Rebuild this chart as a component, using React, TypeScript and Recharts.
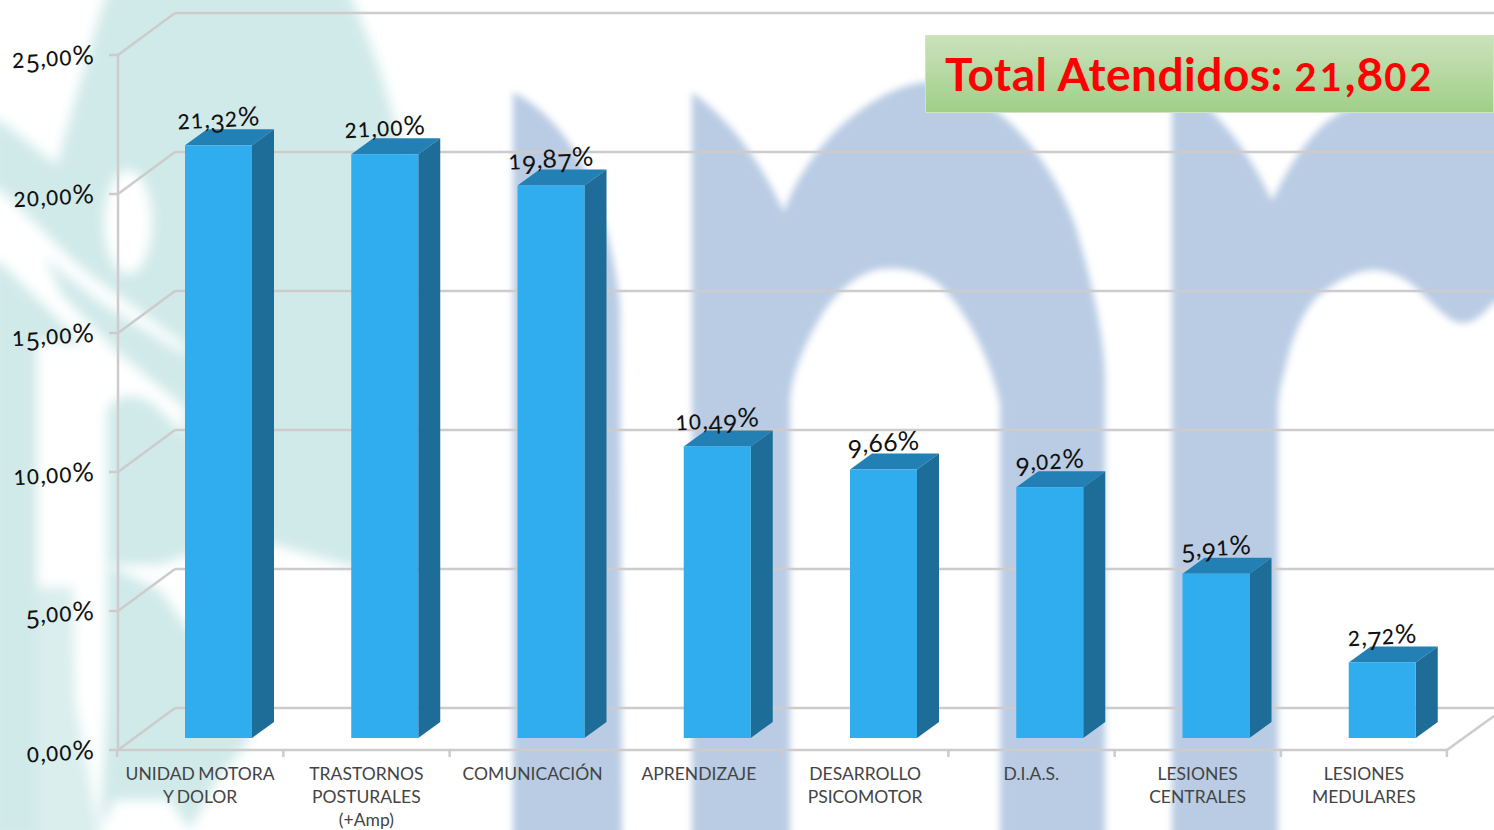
import { Bar, BarChart, CartesianGrid, LabelList, XAxis, YAxis } from "recharts";

const categories = [
  "UNIDAD MOTORA\nY DOLOR",
  "TRASTORNOS\nPOSTURALES\n(+Amp)",
  "COMUNICACIÓN",
  "APRENDIZAJE",
  "DESARROLLO\nPSICOMOTOR",
  "D.I.A.S.",
  "LESIONES\nCENTRALES",
  "LESIONES\nMEDULARES",
];
const percentages = [21.32, 21.0, 19.87, 10.49, 9.66, 9.02, 5.91, 2.72];
const yTicks = [0, 5, 10, 15, 20, 25];
const totalLabel = "Total Atendidos: ";
const totalValue = "21,802";

const chartData = categories.map((name, i) => ({ name, value: percentages[i] }));

const FONT = "Lato, 'Open Sans', sans-serif";
const GRID = "#cdcbcb";
const formatPct = (v: number) => v.toFixed(2).replace(".", ",") + "%";

// the installed fonts have no old-style figures, so fake them digit by digit
function oldStyle(text: string, size: number) {
  let offset = 0;
  return text.split("").map((ch, i) => {
    const small = "012".includes(ch);
    const low = "34579".includes(ch);
    const target = low ? size * 0.2 : 0;
    const dy = target - offset;
    offset = target;
    return (
      <tspan
        key={i}
        dy={dy}
        fontSize={small ? size * 0.8 : size * (ch === "%" ? 1.02 : 0.96)}
        fontWeight={small ? 500 : 400}
        letterSpacing={small ? 1.2 : 0.3}
      >
        {ch}
      </tspan>
    );
  });
}

function Bar3D({ x, y, width, height }: any) {
  const dx = 22;
  const dy = 16;
  return (
    <g>
      <polygon
        points={`${x},${y} ${x + dx},${y - dy} ${x + width + dx},${y - dy} ${x + width},${y}`}
        fill="#2280b5"
      />
      <polygon
        points={`${x + width},${y} ${x + width + dx},${y - dy} ${x + width + dx},${y + height - dy} ${x + width},${y + height}`}
        fill="#1e6d99"
      />
      <rect x={x} y={y} width={width} height={height} fill="#30adee" />
    </g>
  );
}

// grid line = back wall line plus the diagonal on the side wall
function GridLine({ y1 }: any) {
  const isFloor = Math.abs(y1 - 738) < 1;
  return (
    <g stroke={GRID} strokeWidth={2.5} fill="none">
      <line x1={175} y1={y1 - 30} x2={1494} y2={y1 - 30} />
      <line x1={118} y1={y1 + 12} x2={175} y2={y1 - 30} />
      {isFloor && <line x1={118} y1={y1 + 12} x2={1447} y2={y1 + 12} />}
      {isFloor && <line x1={1447} y1={y1 + 12} x2={1494} y2={y1 - 22} />}
      {isFloor && <line x1={118} y1={55} x2={118} y2={y1 + 12} />}
    </g>
  );
}

function ValueTick({ y, payload }: any) {
  const yy = y + 12;
  return (
    <g>
      <line x1={109} y1={yy} x2={118} y2={yy} stroke={GRID} strokeWidth={2.5} />
      <text
        x={94}
        y={yy + 9}
        textAnchor="end"
        fontFamily={FONT}
        fill="#111"
        transform={`rotate(-3 94 ${yy})`}
      >
        {oldStyle(formatPct(payload.value), 26)}
      </text>
    </g>
  );
}

function CategoryTick({ x, payload, index }: any) {
  const lines = String(payload.value).split("\n");
  const left = x - 101;
  return (
    <g>
      <line x1={left} y1={750} x2={left} y2={757} stroke={GRID} strokeWidth={2.5} />
      {index === categories.length - 1 && (
        <line x1={x + 65} y1={750} x2={x + 65} y2={757} stroke={GRID} strokeWidth={2.5} />
      )}
      <text textAnchor="middle" fontFamily={FONT} fontSize={17.5} wordSpacing={-1} fill="#444">
        {lines.map((line, i) => (
          <tspan key={line} x={x - 18} y={780 + i * 23}>
            {line}
          </tspan>
        ))}
      </text>
    </g>
  );
}

function ValueLabel({ x, y, width, value }: any) {
  const cx = x + width / 2;
  return (
    <text
      x={cx}
      y={y - 18}
      textAnchor="middle"
      fontFamily={FONT}
      fill="#111"
      transform={`rotate(-3 ${cx} ${y - 26})`}
    >
      {oldStyle(formatPct(value), 26)}
    </text>
  );
}

function Watermark() {
  return (
    <svg width={1494} height={830} style={{ position: "absolute", left: 0, top: 0 }}>
      <defs>
        <filter id="soft" x="-10%" y="-10%" width="120%" height="120%">
          <feGaussianBlur stdDeviation="3.5" />
        </filter>
        <filter id="softer" x="-30%" y="-30%" width="160%" height="160%">
          <feGaussianBlur stdDeviation="6" />
        </filter>
      </defs>
      <g fill="#d0eae9" filter="url(#softer)">
        <path d="M108,-12 C92,40 73,106 57,165 L0,120 L-10,120 L-10,185 L0,190 C40,225 70,262 100,282 L185,345 L185,520 L275,545 L350,566 L420,575 L415,400 L405,170 C395,110 375,50 347,-12 Z" />
        <path d="M45,258 L100,302 L185,355 L185,408 L115,350 L62,295 Z" />
        <path d="M-10,262 L0,262 L85,345 L37,340 L37,840 L-10,840 Z" />
        <path d="M107,410 C118,392 135,392 155,405 L200,450 L200,550 L160,565 L107,565 Z" />
        <path d="M107,565 L160,590 L185,625 L252,720 L250,740 L217,780 L190,830 L170,800 L115,800 L100,830 L107,700 Z" />
        <path d="M37,587 L73,587 L75,700 L100,840 L37,840 Z" fillOpacity={0.8} />
      </g>
      <ellipse cx={128} cy={222} rx={24} ry={52} fill="#fff" filter="url(#softer)" />
      <g fill="#b9cce4" filter="url(#soft)">
        <path d="M513,92 C540,105 569,134 590,180 C605,217 615,260 620,305 L622,845 L513,845 Z" />
        <path d="M692,92 C730,120 760,160 784,212 C795,180 819,143 850,118 C880,94 905,84 926,82 C950,84 975,95 993,109 C1030,135 1060,183 1075,225 C1092,281 1105,340 1105,379 L1105,845 L1000,845 L1000,404 C990,355 965,310 940,285 C925,272 905,267 882,269 C860,271 835,292 820,318 C802,348 790,380 790,404 L790,845 L692,845 Z" />
        <path d="M1172,92 L1200,100 C1240,137 1260,175 1272,201 C1285,175 1297,151 1320,128 C1345,105 1370,98 1400,95 L1510,95 L1510,295 L1494,302 C1485,312 1475,323 1463,323 C1450,323 1440,310 1430,302 C1415,285 1400,272 1375,270 C1355,270 1335,282 1317,297 C1300,315 1290,345 1285,370 C1280,385 1278,400 1278,411 L1278,845 L1172,845 Z" />
      </g>
    </svg>
  );
}

export default function App() {
  const titleDigits = totalValue.split("").map((ch, i) => (
    <span
      key={i}
      style={{ fontSize: "012".includes(ch) ? 38 : 46, letterSpacing: "012".includes(ch) ? 3 : 1 }}
    >
      {ch}
    </span>
  ));
  return (
    <div style={{ position: "absolute", left: 0, top: 0, width: 1494, height: 830, overflow: "hidden", background: "#fff" }}>
      <Watermark />
      <div style={{ position: "absolute", left: 0, top: 0 }}>
        <BarChart
          width={1494}
          height={830}
          data={chartData}
          margin={{ top: 43, right: 29, bottom: 0, left: 0 }}
        >
          <CartesianGrid vertical={false} horizontal={(props: any) => <GridLine key={props.y1} {...props} />} />
          <XAxis dataKey="name" interval={0} height={92} axisLine={false} tickLine={false} tick={<CategoryTick />} />
          <YAxis domain={[0, 25]} ticks={yTicks} width={135} axisLine={false} tickLine={false} tick={<ValueTick />} />
          <Bar dataKey="value" barSize={67} shape={<Bar3D />} isAnimationActive={false}>
            <LabelList dataKey="value" content={<ValueLabel />} />
          </Bar>
        </BarChart>
      </div>
      <div
        style={{
          position: "absolute",
          left: 925,
          top: 35,
          width: 569,
          height: 78,
          boxSizing: "border-box",
          border: "1px solid #cfe5c2",
          background: "linear-gradient(#cbe2bc, #a0cf87)",
          color: "#ff0000",
          fontFamily: FONT,
          fontWeight: 700,
          fontSize: 46,
          letterSpacing: 0.5,
          lineHeight: "76px",
          paddingLeft: 19,
          whiteSpace: "nowrap",
        }}
      >
        {totalLabel}
        {titleDigits}
      </div>
    </div>
  );
}
